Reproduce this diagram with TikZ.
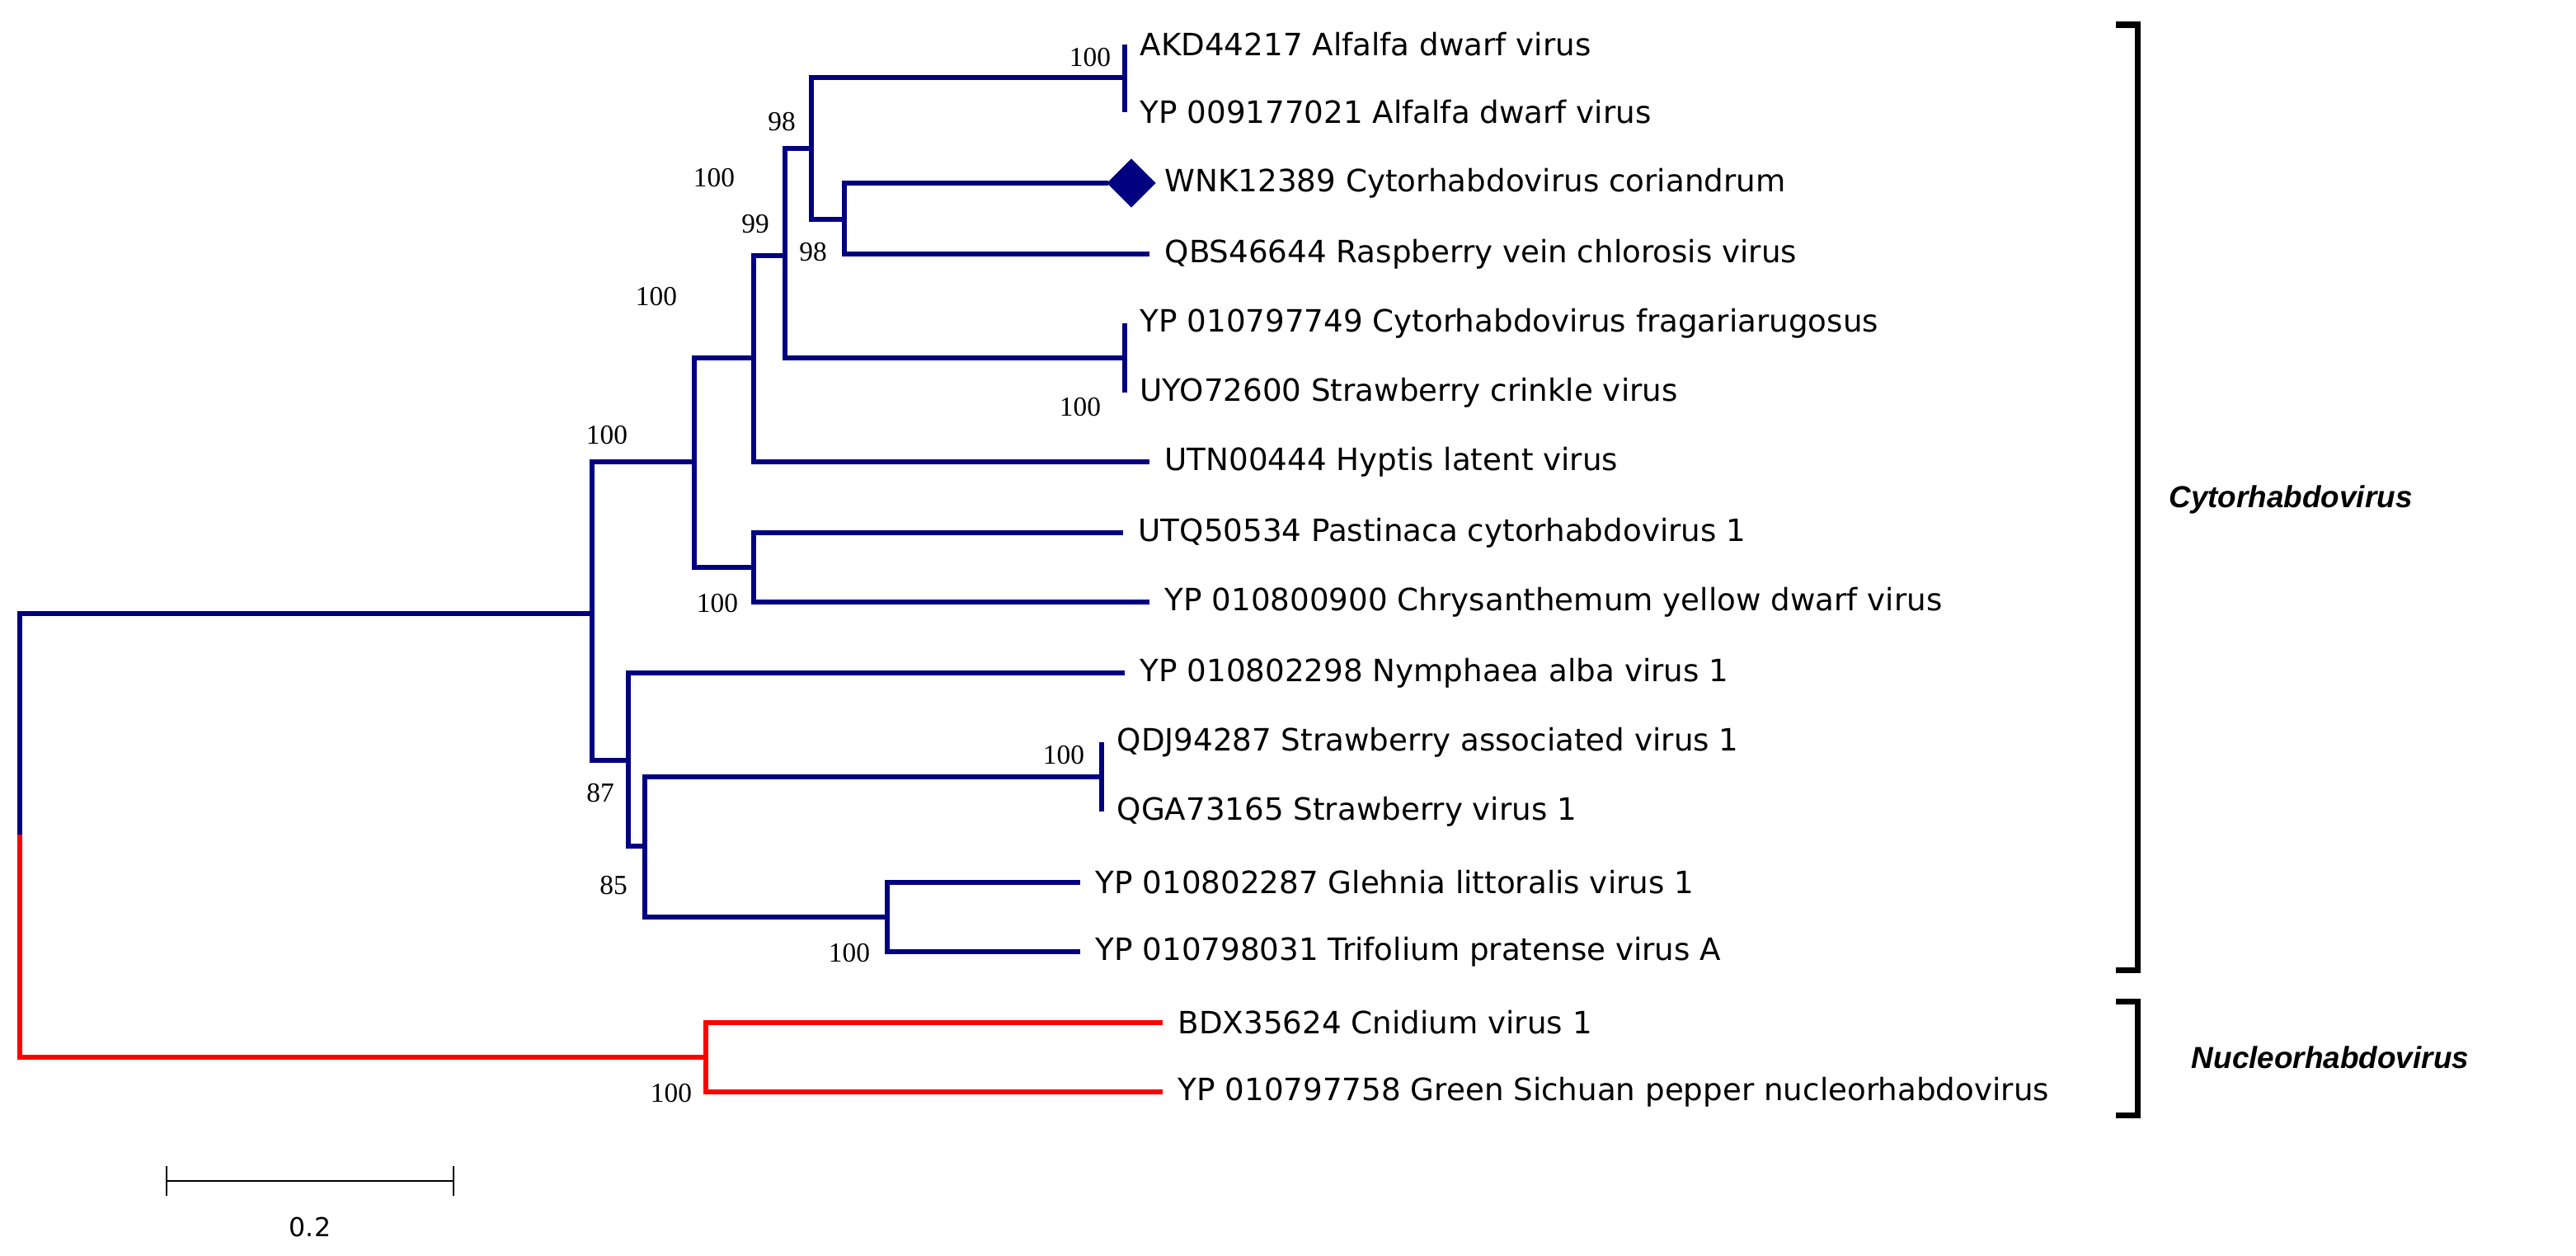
\documentclass[tikz,border=0pt]{standalone}
\usepackage{fontspec}
\setmainfont{DejaVu Sans}
\newfontfamily\numfont{Liberation Serif}
\newfontfamily\grpfont{Liberation Sans}
\usetikzlibrary{shapes.geometric}
\definecolor{tb}{RGB}{0,0,128}
\begin{document}
\begin{tikzpicture}[x=0.02cm,y=-0.02cm,
 br/.style={line width=1.6pt,tb},
 rbr/.style={line width=1.6pt,red},
 lab/.style={anchor=west,font=\fontsize{10.6}{12}\selectfont,inner sep=0pt},
 bs/.style={font=\numfont\fontsize{9.5}{11}\selectfont,inner sep=0pt}]
\useasboundingbox (0,0) rectangle (1562,761);
% leaves
\foreach \n/\x/\y/\t in {1/682/27/AKD44217 Alfalfa dwarf virus,2/682/68/YP 009177021 Alfalfa dwarf virus,4/697/154/QBS46644 Raspberry vein chlorosis virus,5/682/196/YP 010797749 Cytorhabdovirus fragariarugosus,6/682/238/UYO72600 Strawberry crinkle virus,7/697/280/UTN00444 Hyptis latent virus,8/681/323/UTQ50534 Pastinaca cytorhabdovirus 1,9/697/365/YP 010800900 Chrysanthemum yellow dwarf virus,10/682/408/YP 010802298 Nymphaea alba virus 1,11/668/450/QDJ94287 Strawberry associated virus 1,12/668/492/QGA73165 Strawberry virus 1,13/655/535/YP 010802287 Glehnia littoralis virus 1,14/655/577/YP 010798031 Trifolium pratense virus A,15/705/620/BDX35624 Cnidium virus 1,16/705/662/YP 010797758 Green Sichuan pepper nucleorhabdovirus}
 {\coordinate (l\n) at (\x,\y);
  \node[lab] (t\n) at (\x+9,\y) {\t};}
\coordinate (l3) at (672,111);
\node[lab] (t3) at (706,111) {WNK12389 Cytorhabdovirus coriandrum};
\node[diamond,fill=tb,inner sep=0pt,minimum size=17pt] (dm) at (686,111) {};
% internal nodes
\coordinate (A) at (682,47);
\coordinate (B) at (512,133);
\coordinate (C) at (492,90);
\coordinate (D) at (682,217);
\coordinate (E) at (476,155);
\coordinate (F) at (457,217);
\coordinate (G) at (457,344);
\coordinate (H) at (421,280);
\coordinate (I) at (668,471);
\coordinate (J) at (538,556);
\coordinate (K) at (391,513);
\coordinate (L) at (381,461);
\coordinate (M) at (359,372);
\coordinate (N) at (428,641);
\coordinate (R) at (12,506);
\begin{scope}[br]
\draw (A)|-(l1); \draw (A)|-(l2);
\draw (B)|-(l3); \draw (B)|-(l4);
\draw (C)|-(A); \draw (C)|-(B);
\draw (D)|-(l5); \draw (D)|-(l6);
\draw (E)|-(C); \draw (E)|-(D);
\draw (F)|-(E); \draw (F)|-(l7);
\draw (G)|-(l8); \draw (G)|-(l9);
\draw (H)|-(F); \draw (H)|-(G);
\draw (I)|-(l11); \draw (I)|-(l12);
\draw (J)|-(l13); \draw (J)|-(l14);
\draw (K)|-(I); \draw (K)|-(J);
\draw (L)|-(l10); \draw (L)|-(K);
\draw (M)|-(H); \draw (M)|-(L);
\draw (R)|-(M);
\end{scope}
\begin{scope}[rbr]
\draw (N)|-(l15); \draw (N)|-(l16);
\draw (R)|-(N);
\end{scope}
% bootstrap
\foreach \x/\y/\v in {661/35/100,474/74/98,493/153/98,458/136/99,433/108/100,655/247/100,398/180/100,435/366/100,645/458/100,515/578/100,372/537/85,364/481/87,368/264/100,407/663/100}
 \node[bs] at (\x,\y) {\v};
% brackets
\draw[line width=2pt] (1283,15) -- (1296,15) -- (1296,588) -- (1283,588);
\draw[line width=2pt] (1283,607) -- (1296,607) -- (1296,676) -- (1283,676);
\node[font=\grpfont\bfseries\itshape\fontsize{10.5}{13}\selectfont] (cy) at (1389,303) {Cytorhabdovirus};
\node[font=\grpfont\bfseries\itshape\fontsize{10.5}{13}\selectfont] (nu) at (1413,641) {Nucleorhabdovirus};
% scale bar
\coordinate (s1) at (101,716); \coordinate (s2) at (275,716);
\draw[line width=0.8pt] (s1) -- (s2);
\draw[line width=0.8pt] ([yshift=-5]s1) -- ([yshift=5]s1);
\draw[line width=0.8pt] ([yshift=-5]s2) -- ([yshift=5]s2);
\node[font=\fontsize{9}{11}\selectfont] (sl) at (188,744) {0.2};
\end{tikzpicture}
\end{document}
